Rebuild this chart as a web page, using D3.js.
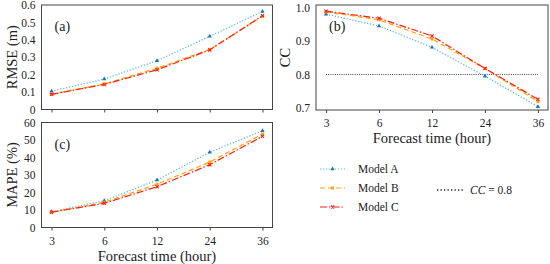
<!DOCTYPE html>
<html>
<head>
<meta charset="utf-8">
<script src="https://cdn.jsdelivr.net/npm/d3@7"></script>
<style>
  body { margin: 0; background: #fff; }
  svg text { fill: #222; }
  .box { fill: none; stroke: #444; stroke-width: 1; }
  .axis path { display: none; }
  .axis line { stroke: #444; }
  .axis text { font-size: 11.5px; }
  .title { font-size: 14.5px; }
</style>
</head>
<body>
<div id="chart"></div>
<script>
// forecast lead times (categories)
var hours = ["3", "6", "12", "24", "36"];
var modelNames = ["Model A", "Model B", "Model C"];

// RMSE (m)
var rmseA = [0.105, 0.175, 0.28, 0.42, 0.563];
var rmseB = [0.088, 0.147, 0.237, 0.345, 0.535];
var rmseC = [0.087, 0.144, 0.228, 0.342, 0.539];

// CC
var ccA = [0.980, 0.945, 0.881, 0.795, 0.704];
var ccB = [0.987, 0.963, 0.906, 0.818, 0.719];
var ccC = [0.989, 0.968, 0.915, 0.818, 0.726];
var ccRef = 0.8;

// MAPE (%)
var mapeA = [9.0, 15.3, 27.1, 43.0, 55.3];
var mapeB = [8.8, 14.4, 24.7, 37.4, 53.4];
var mapeC = [8.7, 13.8, 23.3, 35.9, 52.1];

var rmseTicks = [0, 0.1, 0.2, 0.3, 0.4, 0.5, 0.6];
var ccTicks = [0.7, 0.8, 0.9, 1.0];
var mapeTicks = [0, 10, 20, 30, 40, 50, 60];

var serif = "Liberation Serif, Times New Roman, serif";

var styles = [
    {line: "#4fb3e6", mark: "#1a70b8", dash: "1.2,1.8", symbol: d3.symbolTriangle},
    {line: "#ffa500", mark: "#ffa500", dash: "5,3", symbol: d3.symbolSquare},
    {line: "#ff1a1a", mark: "#ff1a1a", dash: "7,2,1.5,2", symbol: d3.symbolCross}
];

var svg = d3.select("#chart").append("svg")
    .attr("width", 550)
    .attr("height", 264)
    .attr("font-family", serif);

function drawMarker(g, sym, color, x, y) {
    if (sym === d3.symbolCross) {
        // small x mark
        g.append("path")
            .attr("d", "M" + (x - 1.6) + "," + (y - 1.6) + "L" + (x + 1.6) + "," + (y + 1.6) +
                "M" + (x - 1.6) + "," + (y + 1.6) + "L" + (x + 1.6) + "," + (y - 1.6))
            .attr("stroke", color)
            .attr("stroke-width", 1.1);
    } else {
        g.append("path")
            .attr("d", d3.symbol().type(sym).size(sym === d3.symbolSquare ? 9 : 8)())
            .attr("transform", "translate(" + x + "," + y + ")")
            .attr("fill", color);
    }
}

function panel(opts) {
    var g = svg.append("g");
    var x = d3.scalePoint()
        .domain(hours)
        .range([opts.left, opts.right])
        .padding(0.19);
    var y = d3.scaleLinear()
        .domain(opts.domain)
        .range([opts.bottom, opts.top]);

    g.append("rect")
        .attr("class", "box")
        .attr("x", opts.left)
        .attr("y", opts.top)
        .attr("width", opts.right - opts.left)
        .attr("height", opts.bottom - opts.top);

    var xAxis = d3.axisBottom(x).tickSize(3).tickPadding(6);
    if (!opts.xLabels) xAxis.tickFormat("");
    g.append("g")
        .attr("class", "axis")
        .attr("transform", "translate(0," + opts.bottom + ")")
        .call(xAxis);

    g.append("g")
        .attr("class", "axis")
        .attr("transform", "translate(" + opts.left + ",0)")
        .call(d3.axisLeft(y).tickValues(opts.ticks).tickFormat(opts.fmt).tickSize(0).tickPadding(6));

    g.selectAll(".axis").attr("font-family", serif);

    if (opts.ref !== undefined) {
        g.append("line")
            .attr("x1", x(hours[0]))
            .attr("x2", x(hours[hours.length - 1]))
            .attr("y1", y(opts.ref))
            .attr("y2", y(opts.ref))
            .attr("stroke", "#444")
            .attr("stroke-width", 1)
            .attr("stroke-dasharray", "1,1.2");
    }

    opts.series.forEach(function(vals, i) {
        var s = styles[i];
        var line = d3.line()
            .x(function(d, j) { return x(hours[j]); })
            .y(function(d) { return y(d); });
        g.append("path")
            .datum(vals)
            .attr("d", line)
            .attr("fill", "none")
            .attr("stroke", s.line)
            .attr("stroke-width", 1.2)
            .attr("stroke-dasharray", s.dash);
    });
    opts.series.forEach(function(vals, i) {
        var s = styles[i];
        vals.forEach(function(d, j) {
            drawMarker(g, s.symbol, s.mark, x(hours[j]), y(d));
        });
    });

    g.append("text")
        .attr("x", opts.left + 13)
        .attr("y", opts.top + 26)
        .attr("font-size", "14px")
        .text(opts.tag);

    g.append("text")
        .attr("class", "title")
        .attr("transform", "translate(" + opts.yTitleX + "," + ((opts.top + opts.bottom) / 2) + ") rotate(-90)")
        .attr("text-anchor", "middle")
        .text(opts.yTitle);

    if (opts.xLabels) {
        g.append("text")
            .attr("class", "title")
            .attr("x", (opts.left + opts.right) / 2)
            .attr("y", opts.bottom + 33)
            .attr("text-anchor", "middle")
            .text("Forecast time (hour)");
    }
}

panel({left: 41.5, right: 272.5, top: 5, bottom: 109.5, domain: [0, 0.6],
    ticks: rmseTicks, fmt: function(d) { return d === 0 ? "0" : d3.format(".1f")(d); },
    series: [rmseA, rmseB, rmseC], tag: "(a)", yTitle: "RMSE (m)", yTitleX: 17, xLabels: false});

panel({left: 41.5, right: 272.5, top: 122.5, bottom: 227.5, domain: [0, 60],
    ticks: mapeTicks, fmt: d3.format("d"),
    series: [mapeA, mapeB, mapeC], tag: "(c)", yTitle: "MAPE (%)", yTitleX: 17, xLabels: true});

panel({left: 316, right: 548, top: 5, bottom: 110, domain: [0.694, 1.0075],
    ticks: ccTicks, fmt: d3.format(".1f"), ref: ccRef,
    series: [ccA, ccB, ccC], tag: "(b)", yTitle: "CC", yTitleX: 290, xLabels: true});

// legend
var legend = svg.append("g");
modelNames.forEach(function(name, i) {
    var s = styles[i];
    var ly = 169 + i * 19;
    legend.append("line")
        .attr("x1", 320).attr("x2", 345)
        .attr("y1", ly).attr("y2", ly)
        .attr("stroke", s.line)
        .attr("stroke-width", 1.2)
        .attr("stroke-dasharray", s.dash);
    drawMarker(legend, s.symbol, s.mark, 332.5, ly);
    legend.append("text")
        .attr("x", 358)
        .attr("y", ly + 4)
        .attr("font-size", "11.5px")
        .text(name);
});

legend.append("line")
    .attr("x1", 437).attr("x2", 463)
    .attr("y1", 190).attr("y2", 190)
    .attr("stroke", "#222")
    .attr("stroke-width", 1.3)
    .attr("stroke-dasharray", "1.3,2.2");
var refText = legend.append("text")
    .attr("x", 470)
    .attr("y", 194)
    .attr("font-size", "11.5px");
refText.append("tspan").attr("font-style", "italic").text("CC");
refText.append("tspan").text(" = " + ccRef);
</script>
</body>
</html>
